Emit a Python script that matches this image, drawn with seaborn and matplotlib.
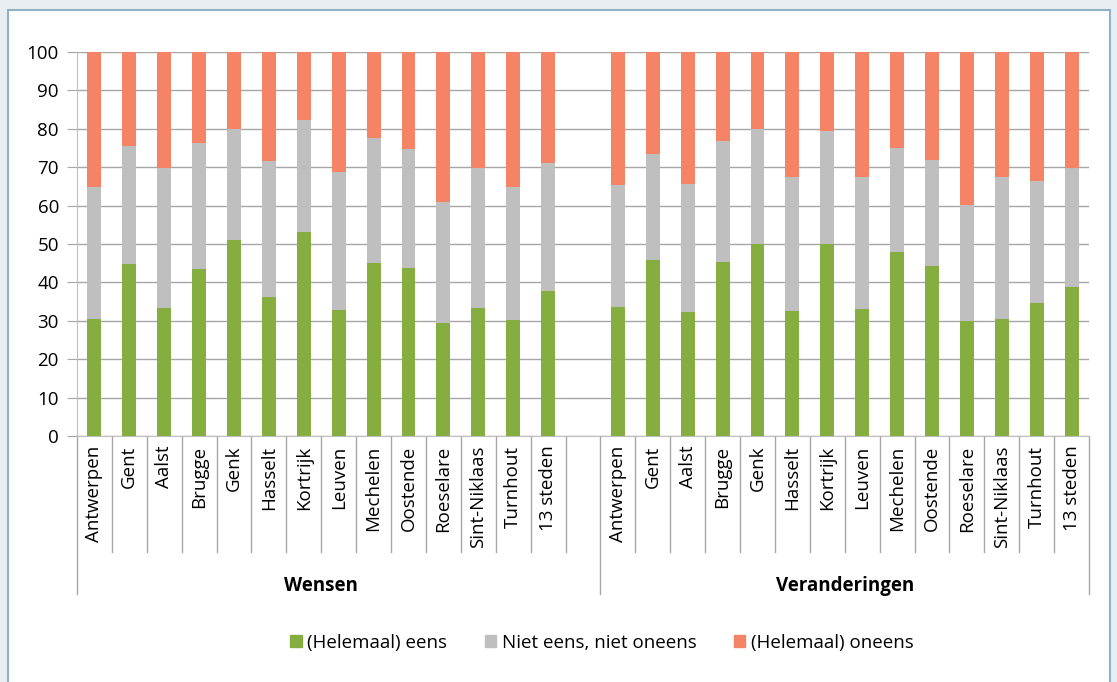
import seaborn as sns
import pandas as pd, numpy as np
import matplotlib.pyplot as plt
from matplotlib.patches import Rectangle, Patch
import matplotlib.transforms as mtransforms

steden = ['Antwerpen', 'Gent', 'Aalst', 'Brugge', 'Genk', 'Hasselt', 'Kortrijk',
          'Leuven', 'Mechelen', 'Oostende', 'Roeselare', 'Sint-Niklaas',
          'Turnhout', '13 steden']
groepen = ['Wensen', 'Veranderingen']

# (Helemaal) eens
wensen_eens = [30.5, 44.9, 33.4, 43.6, 51.1, 36.3, 53.0, 32.9, 45.0, 43.8, 29.5, 33.4, 30.2, 37.8]
veranderingen_eens = [33.7, 45.8, 32.3, 45.2, 50.1, 32.5, 50.1, 33.1, 48.0, 44.3, 29.9, 30.4, 34.7, 38.7]
# Niet eens, niet oneens
wensen_neutraal = [34.4, 30.7, 36.5, 32.7, 28.9, 35.4, 29.3, 35.9, 32.7, 31.0, 31.5, 36.5, 34.7, 33.2]
veranderingen_neutraal = [31.6, 27.7, 33.3, 31.6, 29.9, 35.0, 29.4, 34.4, 27.0, 27.6, 30.3, 37.1, 31.7, 31.0]
# (Helemaal) oneens = rest tot 100

kleuren = {'eens': '#86ad3f', 'neutraal': '#bfbfbf', 'oneens': '#f58466'}

rows = []
for groep, eens, neutraal in [('Wensen', wensen_eens, wensen_neutraal),
                              ('Veranderingen', veranderingen_eens, veranderingen_neutraal)]:
    for stad, e, n in zip(steden, eens, neutraal):
        rows.append({'slot': groep + '|' + stad, 'stad': stad, 'groep': groep,
                     'eens': e, 'neutraal': n, 'oneens': 100 - e - n})
df = pd.DataFrame(rows)
df['cum_neutraal'] = df['eens'] + df['neutraal']
df['cum_oneens'] = df['cum_neutraal'] + df['oneens']

order = ['Wensen|' + s for s in steden] + [' '] + ['Veranderingen|' + s for s in steden]
labels = steden + [''] + steden
fs = 13.5

plt.rcParams['font.family'] = ['Open Sans', 'DejaVu Sans']
fig = plt.figure(figsize=(11.17, 6.82), dpi=100, facecolor='#e9eef2')
fig.patches.append(Rectangle((8 / 1117, -0.02), (1110 - 8) / 1117, 1 - 10 / 682 + 0.02,
                             transform=fig.transFigure, facecolor='white',
                             edgecolor='#8db3c5', linewidth=1.5, zorder=-1))
ax = fig.add_axes([77 / 1117, 1 - 436 / 682, (1089 - 77) / 1117, 384 / 682])
ax.set_facecolor('none')

for col, key in [('cum_oneens', 'oneens'), ('cum_neutraal', 'neutraal'), ('eens', 'eens')]:
    sns.barplot(data=df, x='slot', y=col, order=order, color=kleuren[key],
                width=0.4, saturation=1, ax=ax, zorder=3)

ax.set_xlim(-0.5, len(order) - 0.5)
ax.set_ylim(0, 100)
ax.set_yticks(np.arange(0, 101, 10))
ax.yaxis.grid(True, color='#a6a6a6', linewidth=1)
ax.set_axisbelow(True)
ax.set_xlabel('')
ax.set_ylabel('')
for s in ['top', 'right']:
    ax.spines[s].set_visible(False)
ax.spines['left'].set_color('#bfbfbf')
ax.spines['bottom'].set_color('#bfbfbf')
ax.tick_params(axis='y', length=7, color='#a6a6a6', labelsize=fs, pad=6)
ax.set_xticks(range(len(order)))
ax.set_xticklabels(labels, rotation=90, fontsize=fs, va='top')
ax.tick_params(axis='x', length=0, pad=7)

# scheidingslijnen onder de as
trans = mtransforms.blended_transform_factory(ax.transData, ax.transAxes)
for k in range(len(order) + 1):
    grens = k - 0.5
    diep = -0.412 if k in (0, 15, len(order)) else -0.302
    ax.plot([grens, grens], [0, diep], color='#a6a6a6', linewidth=1,
            transform=trans, clip_on=False)

ax.text(6.5, -0.39, groepen[0], transform=trans, ha='center', va='center',
        fontsize=fs, fontweight='bold')
ax.text(21.5, -0.39, groepen[1], transform=trans, ha='center', va='center',
        fontsize=fs, fontweight='bold')

handles = [Patch(color=kleuren['eens'], label='(Helemaal) eens'),
           Patch(color=kleuren['neutraal'], label='Niet eens, niet oneens'),
           Patch(color=kleuren['oneens'], label='(Helemaal) oneens')]
fig.legend(handles=handles, loc='center', bbox_to_anchor=(602 / 1117, 1 - 643 / 682),
           ncol=3, frameon=False, fontsize=fs, handlelength=0.6, handleheight=0.6,
           handletextpad=0.3, columnspacing=2.0)

fig.savefig('out.png', dpi=100, facecolor=fig.get_facecolor())
